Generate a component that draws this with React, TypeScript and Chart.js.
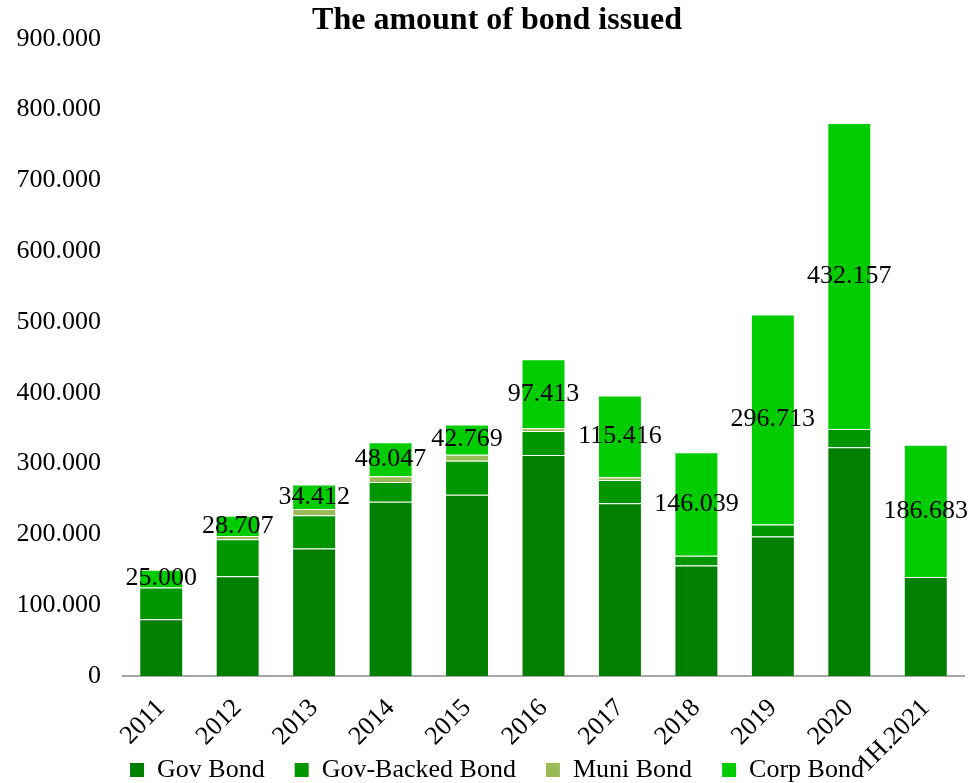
import { useEffect, useRef } from 'react';
import { Chart, registerables } from 'chart.js';

Chart.register(...registerables);

const categories = ['2011', '2012', '2013', '2014', '2015', '2016', '2017', '2018', '2019', '2020', '1H.2021'];
const govBond = [80000, 141000, 180000, 246000, 256000, 312000, 244000, 156000, 197000, 323000, 140000];
const govBackedBond = [45000, 52000, 47000, 28000, 48000, 34000, 33000, 14000, 17000, 26000, 0];
const muniBond = [0, 4700, 9000, 8000, 8500, 3800, 3800, 0, 0, 0, 0];
const corpBond = [25000, 28707, 34412, 48047, 42769, 97413, 115416, 146039, 296713, 432157, 186683];
const yTicks = [0, 100000, 200000, 300000, 400000, 500000, 600000, 700000, 800000, 900000];

const FONT = '"Liberation Serif", "Times New Roman", serif';

const fmt = (n: number) =>
  n === 0 ? '0' : Math.round(n).toString().replace(/\B(?=(\d{3})+(?!\d))/g, '.');

const barLabels = {
  id: 'barLabels',
  afterDatasetsDraw(chart: any) {
    const meta = chart.getDatasetMeta(3);
    const ctx = chart.ctx;
    ctx.save();
    ctx.font = `26px ${FONT}`;
    ctx.fillStyle = '#000';
    ctx.textAlign = 'center';
    ctx.textBaseline = 'middle';
    meta.data.forEach((bar: any, i: number) => {
      const p = bar.getProps(['x', 'y', 'base'], true);
      ctx.fillText(fmt(corpBond[i]), p.x, (p.y + p.base) / 2);
    });
    ctx.restore();
  },
};

// let tick labels overflow their scale boxes (Chart.js clips labels to the scale box)
const unclipLabels = {
  id: 'unclipLabels',
  afterLayout(chart: any) {
    chart.scales.x.bottom = chart.height;
    chart.scales.y.left = 0;
  },
};

export default function App() {
  const ref = useRef<HTMLCanvasElement>(null);

  useEffect(() => {
    Chart.defaults.font.family = FONT;
    const border = 'rgba(255,255,255,0.28)';
    const chart = new Chart(ref.current!, {
      type: 'bar',
      data: {
        labels: categories,
        datasets: [
          { label: 'Gov Bond', data: govBond, backgroundColor: '#007F00', borderColor: border, borderWidth: 1 },
          { label: 'Gov-Backed Bond', data: govBackedBond, backgroundColor: '#009600', borderColor: border, borderWidth: 1 },
          { label: 'Muni Bond', data: muniBond, backgroundColor: '#9BBB59', borderColor: border, borderWidth: 1 },
          { label: 'Corp Bond', data: corpBond, backgroundColor: '#00CC00', borderColor: border, borderWidth: 1 },
        ],
      },
      options: {
        responsive: false,
        animation: false,
        layout: { padding: { left: 30, right: 5, top: 0, bottom: -10 } },
        datasets: { bar: { categoryPercentage: 1, barPercentage: 0.575 } },
        plugins: {
          title: {
            display: true,
            text: 'The amount of bond issued',
            color: '#000',
            font: { size: 32, weight: 'bold', lineHeight: 1.1, family: FONT },
            padding: { top: 3, bottom: 0.6 },
          },
          legend: {
            position: 'bottom',
            labels: {
              color: '#000',
              font: { size: 26, lineHeight: 1, family: FONT },
              boxWidth: 14,
              boxHeight: 14,
              padding: 30,
              generateLabels: (c: any) =>
                Chart.defaults.plugins.legend.labels.generateLabels(c).map((l: any) => ({ ...l, lineWidth: 0 })),
            },
          },
          tooltip: { enabled: false },
        },
        scales: {
          x: {
            stacked: true,
            grid: { display: false, drawTicks: false },
            border: { display: true, color: '#a6a6a6', width: 2 },
            ticks: { color: '#000', font: { size: 26, family: FONT }, minRotation: 45, maxRotation: 45, padding: 17, autoSkip: false },
            afterFit: (s: any) => { s.height = 51; },
          },
          y: {
            stacked: true,
            min: 0,
            max: 900000,
            grid: { display: false, drawTicks: false },
            border: { display: false },
            ticks: { color: '#000', font: { size: 26, family: FONT }, padding: 22, callback: (v: any) => fmt(Number(v)) },
            afterBuildTicks: (s: any) => { s.ticks = yTicks.map((v) => ({ value: v })); },
            afterFit: (s: any) => { s.width = 93; },
          },
        },
      },
      plugins: [barLabels, unclipLabels],
    });
    return () => chart.destroy();
  }, []);

  return (
    <div style={{ position: 'fixed', left: 0, top: 0, width: 969, height: 783, background: '#fff' }}>
      <canvas ref={ref} width={969} height={783} style={{ display: 'block', width: 969, height: 783 }} />
    </div>
  );
}
